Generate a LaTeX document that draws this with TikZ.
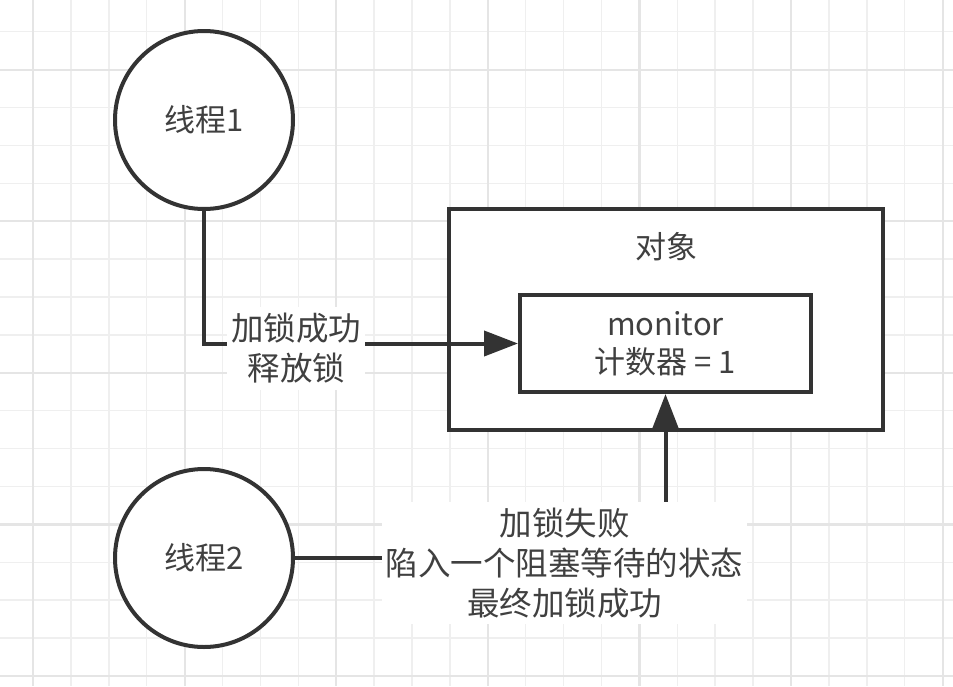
\documentclass[tikz,border=0pt]{standalone}
\usepackage{fontspec}
\setmainfont{Noto Sans CJK SC}
\usetikzlibrary{arrows.meta}
\definecolor{ink}{HTML}{333333}
\definecolor{txt}{HTML}{404040}
\definecolor{gridminor}{HTML}{EFEFEF}
\definecolor{gridmajor}{HTML}{E5E5E5}
\tikzset{
  thread/.style={circle, draw=ink, line width=4pt, fill=white, minimum size=178pt, inner sep=0pt, text=txt, font=\fontsize{31}{38}\selectfont},
  box/.style={rectangle, draw=ink, line width=4pt, fill=white, inner sep=0pt},
  conn/.style={draw=ink, line width=4pt, -{Triangle[length=34pt,width=25pt]}},
  lbl/.style={fill=white, text=txt, align=center, font=\fontsize{32.5}{40}\selectfont, inner xsep=4pt, inner ysep=6pt},
  boxtext/.style={text=txt, align=center, font=\fontsize{31}{38}\selectfont},
  minorline/.style={draw=gridminor, line width=1.5pt},
  majorline/.style={draw=gridmajor, line width=2.2pt},
}
\begin{document}
\begin{tikzpicture}[x=1pt,y=-1pt]
\useasboundingbox (0,0) rectangle (953,686);
\fill[white] (0,0) rectangle (953,686);
% grid
\foreach \k in {0,...,24} \draw[minorline] ({33+37.9*\k},0) -- ({33+37.9*\k},686);
\foreach \k in {0,...,17} \draw[minorline] (0,{31.7+37.9*\k}) -- (953,{31.7+37.9*\k});
\foreach \k in {0,...,6} \draw[majorline] ({33+151.6*\k},0) -- ({33+151.6*\k},686);
\foreach \k in {0,...,4} \draw[majorline] (0,{69.6+151.6*\k}) -- (953,{69.6+151.6*\k});
% nodes
\node[thread] (t1) at (204,120) {线程1};
\node[thread] (t2) at (204,558) {线程2};
\node[box, minimum width=434pt, minimum height=221pt] (obj) at (666,319.5) {};
\node[boxtext] (objname) at (666,247) {对象};
\node[box, boxtext, minimum width=291pt, minimum height=97pt] (mon) at (665.5,343.5) {monitor\\计数器 = 1};
% connectors
\draw[conn] (t1.south) |- (mon.west) node[lbl, pos=0.647, yshift=-5pt] (l1) {加锁成功\\释放锁};
\draw[conn] (t2.east) -| (mon.south) node[lbl, pos=0.364, yshift=-5pt] (l2) {加锁失败\\陷入一个阻塞等待的状态\\最终加锁成功};
\end{tikzpicture}
\end{document}
